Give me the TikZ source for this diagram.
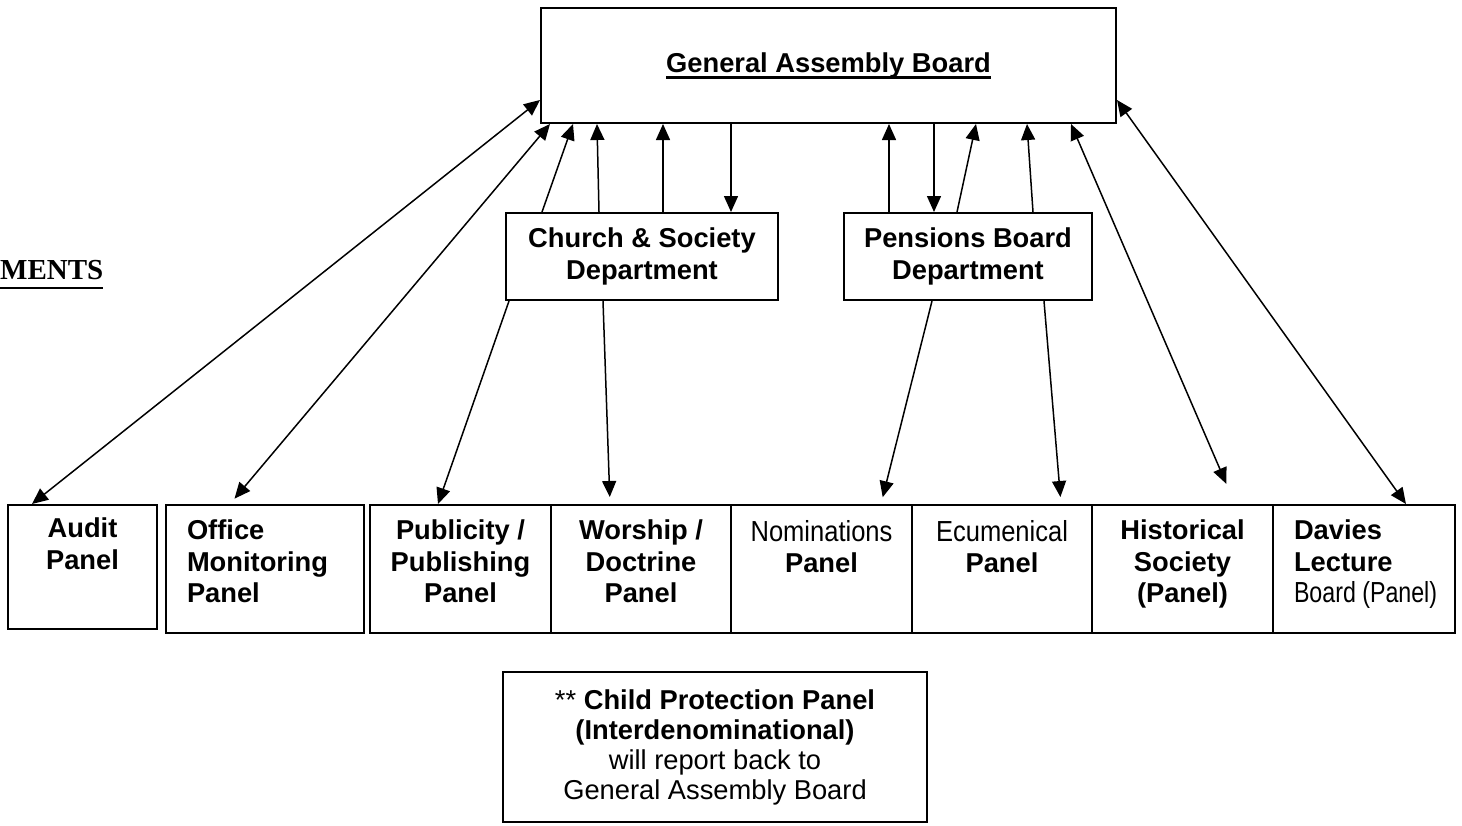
\documentclass[tikz,border=0pt]{standalone}
\usepackage{fontspec}
\setmainfont{Liberation Sans}
\newfontfamily\timesfont{Liberation Serif}
\newfontfamily\narrowfont[FakeStretch=0.8]{Liberation Sans}
\newfontfamily\condfont[FakeStretch=0.88]{Liberation Sans}
\usetikzlibrary{arrows.meta}
\newcommand{\bigf}{\fontsize{27.3}{31.6}\selectfont}
\newcommand{\narr}[1]{{\narrowfont\mdseries\fontsize{29}{31.6}\selectfont #1}}
\newcommand{\cond}[1]{{\condfont\mdseries\fontsize{29}{31.6}\selectfont #1}}
\newcommand{\ulbar}[2]{\setbox0\hbox{#2}\rlap{\rule[-#1]{\wd0}{2.2pt}}\box0}
\newcommand{\ptxt}[3]{\parbox[c][98pt][t]{#1}{#2#3}}
\tikzset{
  box/.style={draw,line width=2pt,inner sep=0pt,align=center},
  panel/.style={box,minimum height=128pt,font=\bfseries\bigf},
  arr/.style={line width=1.5pt,-{Triangle[length=16pt,width=14pt]}},
  biarr/.style={line width=1.5pt,{Triangle[length=16pt,width=14pt]}-{Triangle[length=16pt,width=14pt]}}
}
\begin{document}
\begin{tikzpicture}[x=1pt,y=-1pt]
\useasboundingbox (0,0) rectangle (1462,825);
\node (ga) at (828.5,65.5)[box,minimum width=575pt,minimum height=115pt,font=\bfseries\bigf]{\ulbar{6.5pt}{General Assembly Board}};
\node (dept) at (0,279)[anchor=base west,inner sep=0pt,font=\timesfont\bfseries\fontsize{29}{30}\selectfont]{\ulbar{10pt}{MENTS}};
\node (cs) at (642,256.5)[box,minimum width=272pt,minimum height=87pt,font=\bfseries\bigf]{Church \& Society\\Department};
\node (pb) at (968,256.5)[box,minimum width=248pt,minimum height=87pt,font=\bfseries\bigf]{Pensions Board\\Department};

% panels
\node (audit) at (82.5,567)[panel,minimum width=149pt,minimum height=124pt]{\ptxt{120pt}{\centering}{Audit\\Panel}};
\node (office) at (265,569)[panel,minimum width=198pt]{\ptxt{156pt}{\raggedright}{Office\\Monitoring\\Panel}};
\node (publ) at (460.5,569)[panel,minimum width=181pt]{\ptxt{160pt}{\centering}{Publicity /\\Publishing\\Panel}};
\node (wors) at (641,569)[panel,minimum width=180pt]{\ptxt{160pt}{\centering}{Worship /\\Doctrine\\Panel}};
\node (nomi) at (821.5,569)[panel,minimum width=181pt]{\ptxt{160pt}{\centering}{\cond{Nominations}\\Panel}};
\node (ecum) at (1002,569)[panel,minimum width=180pt]{\ptxt{160pt}{\centering}{\cond{Ecumenical}\\Panel}};
\node (hist) at (1182.5,569)[panel,minimum width=181pt]{\ptxt{160pt}{\centering}{Historical\\Society\\(Panel)}};
\node (davies) at (1364,569)[panel,minimum width=182pt]{\ptxt{140pt}{\raggedright}{Davies\\Lecture\\\narr{\mbox{Board (Panel)}}}};

\node (child) at (715,747)[box,minimum width=424pt,minimum height=150pt,font=\fontsize{27.3}{30}\selectfont]{** \textbf{Child Protection Panel}\\\textbf{(Interdenominational)}\\will report back to\\General Assembly Board};

\draw[biarr] (audit.north -| 32,0) -- (ga.west |- 0,100);
\draw[biarr,shorten <=7pt] (office.north -| 230,0) -- (ga.south -| 550,0);
\draw[arr] (cs.south -| 509,0) -- (publ.north -| 438,0);
\draw[arr,shorten >=7pt] (cs.south -| 603,0) -- (wors.north -| 610,0);
\draw[arr] (cs.north -| 542,0) -- (ga.south -| 573,0);
\draw[arr] (cs.north -| 599,0) -- (ga.south -| 597,0);
\draw[arr] (cs.north -| 663,0) -- (ga.south -| 663,0);
\draw[arr] (ga.south -| 731,0) -- (cs.north -| 731,0);
\draw[arr] (pb.north -| 889,0) -- (ga.south -| 889,0);
\draw[arr] (ga.south -| 934,0) -- (pb.north -| 934,0);
\draw[arr] (pb.north -| 957,0) -- (ga.south -| 976,0);
\draw[arr] (pb.north -| 1033,0) -- (ga.south -| 1027,0);
\draw[arr,shorten >=7pt] (pb.south -| 932,0) -- (nomi.north -| 881,0);
\draw[arr,shorten >=7pt] (pb.south -| 1044,0) -- (ecum.north -| 1061,0);
\draw[biarr,shorten >=22pt] (ga.south -| 1071,0) -- (hist.north -| 1235,0);
\draw[biarr] (ga.east |- 0,100) -- (davies.north -| 1406,0);
\end{tikzpicture}
\end{document}
